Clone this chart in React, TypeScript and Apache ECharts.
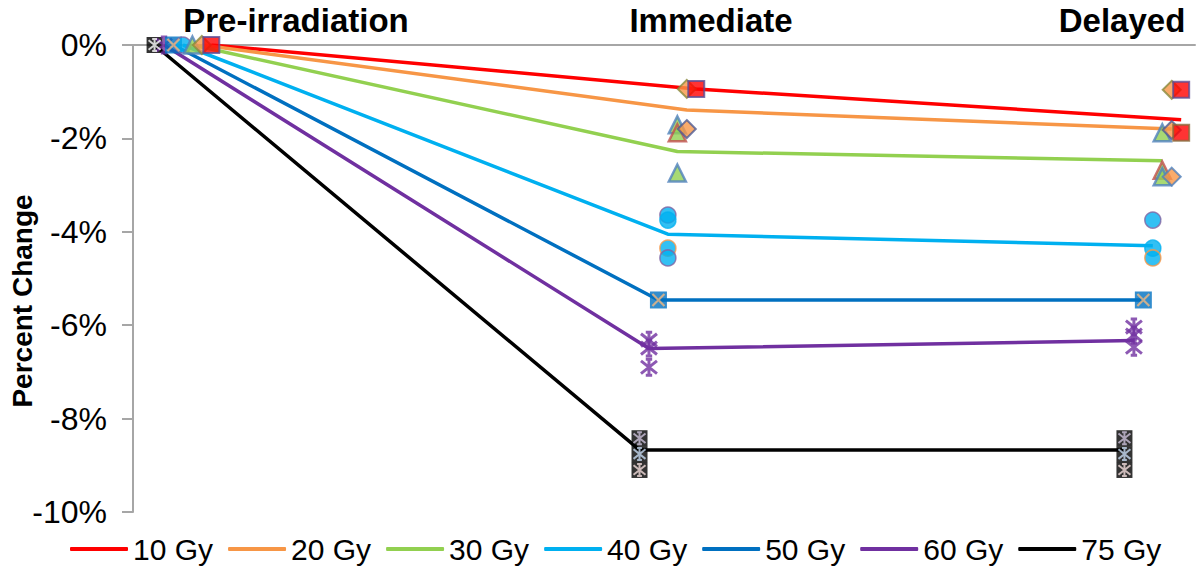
import React, { useEffect, useRef } from "react";
import * as echarts from "echarts";

// ---- data ----
const PHASES = ["Pre-irradiation", "Immediate", "Delayed"];
const PHASE_X = [1, 2, 3];
const DOSES = ["10 Gy", "20 Gy", "30 Gy", "40 Gy", "50 Gy", "60 Gy", "75 Gy"];
const MEAN_PRE = [0, 0, 0, 0, 0, 0, 0];
const MEAN_IMM = [-0.94, -1.39, -2.28, -4.05, -5.46, -6.5, -8.67];
const MEAN_DEL = [-1.6, -1.8, -2.48, -4.3, -5.46, -6.33, -8.67];
const SAMPLES_PRE = [[0], [0], [0], [0], [0], [0], [0]];
const SAMPLES_IMM = [
  [-0.94],
  [-0.94, -1.8],
  [-1.71, -1.88, -2.74],
  [-3.64, -3.75, -4.35, -4.56],
  [-5.46],
  [-6.32, -6.49, -6.9],
  [-8.42, -8.76, -9.1],
];
const SAMPLES_DEL = [
  [-0.96, -1.88],
  [-0.96, -1.82, -2.82],
  [-1.88, -2.68, -2.82],
  [-3.75, -4.35, -4.56],
  [-5.46],
  [-6.04, -6.21, -6.47],
  [-8.42, -8.76, -9.1],
];
const Y_TICKS = [0, -2, -4, -6, -8, -10];

// ---- style ----
const COLORS = ["#FF0000", "#F79646", "#92D050", "#00B0F0", "#0070C0", "#7030A0", "#000000"];
const FONT = "'Liberation Sans', Arial, Helvetica, sans-serif";
const OFFSET_STEP = 0.0195;
const X_PATH = "path://M0 0L10 10M10 0L0 10";
const AST_PATH = "path://M5 0L5 10M0 1L10 9M10 1L0 9M3 0L7 0M3 10L7 10";
const BORDERS: string[][] = [
  ["#5B4E96", "#8A6A3C"],
  ["#8A8A3C", "#4F5B93", "#4F81BD"],
  ["#4F81BD", "#C0504D", "#4F81BD"],
  ["#8064A2", "#00B0F0", "#F79646", "#8064A2"],
  ["#0070C0"],
  ["#7030A0"],
  ["#CCC0DA", "#C5D9F1", "#F2DCDB"],
];
const LABEL_POS = [296, 711, 1122];

function offsetOf(i: number) {
  return (3 - i) * OFFSET_STEP;
}

function points(i: number) {
  const off = offsetOf(i);
  const out: { value: number[]; idx: number }[] = [];
  [SAMPLES_PRE[i], SAMPLES_IMM[i], SAMPLES_DEL[i]].forEach((arr, p) => {
    arr.forEach((v, k) => out.push({ value: [PHASE_X[p] + off, v], idx: k }));
  });
  return out;
}

function buildOption() {
  const series: any[] = [];
  DOSES.forEach((name, i) => {
    const off = offsetOf(i);
    series.push({
      name,
      type: "line",
      symbol: "none",
      z: 2,
      lineStyle: { color: COLORS[i], width: 3.5 },
      itemStyle: { color: COLORS[i] },
      data: [
        [PHASE_X[0] + off, MEAN_PRE[i]],
        [PHASE_X[1] + off, MEAN_IMM[i]],
        [PHASE_X[2] + off, MEAN_DEL[i]],
      ],
    });
  });
  const markerDefs = [
    { symbol: "rect", size: 16, bw: 2 },
    { symbol: "diamond", size: 18, bw: 2 },
    { symbol: "triangle", size: 17, bw: 2.5 },
    { symbol: "circle", size: 16, bw: 1.5 },
    { symbol: "rect", size: 17, bw: 0 },
    { symbol: AST_PATH, size: 16, bw: 3 },
    { symbol: "rect", size: 16, bw: 0 },
  ];
  // draw from 75 Gy back to 10 Gy so 10 Gy markers on top
  for (let i = DOSES.length - 1; i >= 0; i--) {
    const m = markerDefs[i];
    const pts = points(i);
    const isAst = i === 5;
    series.push({
      name: DOSES[i] + " samples",
      type: "scatter",
      z: 5,
      symbol: m.symbol,
      symbolSize: m.size,
      silent: true,
      data: pts.map((p) => ({
        value: p.value,
        itemStyle: {
          color: isAst ? "rgba(0,0,0,0)" : COLORS[i],
          borderColor: isAst ? COLORS[5] : BORDERS[i][p.idx % BORDERS[i].length],
          borderWidth: m.bw,
        },
      })),
    });
    if (i === 4) {
      series.push({
        name: "50 Gy overlay",
        type: "scatter",
        z: 6,
        symbol: X_PATH,
        symbolSize: 12,
        silent: true,
        data: pts.map((p) => ({
          value: p.value,
          itemStyle: { color: "rgba(0,0,0,0)", borderColor: "#F2B880", borderWidth: 2.2 },
        })),
      });
    }
    if (i === 6) {
      series.push({
        name: "75 Gy overlay",
        type: "scatter",
        z: 6,
        symbol: AST_PATH,
        symbolSize: 12,
        silent: true,
        data: pts.map((p) => ({
          value: p.value,
          itemStyle: {
            color: "rgba(0,0,0,0)",
            borderColor: p.value[0] < 1.5 ? "#FFFFFF" : BORDERS[6][p.idx % 3],
            borderWidth: 2,
          },
        })),
      });
    }
  }

  return {
    animation: false,
    backgroundColor: "#FFFFFF",
    textStyle: { fontFamily: FONT },
    grid: { left: 133, right: 5, top: 45, bottom: 55 },
    legend: {
      data: DOSES,
      left: 70,
      top: 534,
      padding: 0,
      icon: "roundRect",
      itemWidth: 58,
      itemHeight: 4,
      itemGap: 15,
      textStyle: { fontSize: 30, lineHeight: 30, color: "#000", fontFamily: FONT },
    },
    xAxis: {
      type: "value",
      position: "top",
      min: 0.897,
      max: 3.087,
      axisLine: { show: true, onZero: false, lineStyle: { color: "#A6A6A6", width: 2 } },
      axisTick: { show: false },
      axisLabel: { show: false },
      splitLine: { show: false },
    },
    yAxis: {
      type: "value",
      min: Y_TICKS[Y_TICKS.length - 1],
      max: Y_TICKS[0],
      interval: 2,
      axisLine: { show: true, lineStyle: { color: "#A6A6A6", width: 2 } },
      axisTick: { show: true, length: 11, lineStyle: { color: "#A6A6A6", width: 2 } },
      axisLabel: {
        formatter: (v: number) => v + "%",
        fontSize: 32,
        color: "#000",
        fontFamily: FONT,
        margin: 26,
      },
      splitLine: { show: false },
    },
    graphic: [
      ...PHASES.map((t, k) => ({
        type: "text",
        x: LABEL_POS[k],
        y: 20,
        style: {
          text: t,
          fontSize: 33,
          fontWeight: "bold",
          fontFamily: FONT,
          fill: "#000",
          align: "center",
          verticalAlign: "middle",
        },
      })),
      {
        type: "text",
        x: 22,
        y: 301,
        rotation: Math.PI / 2,
        style: {
          text: "Percent Change",
          fontSize: 28,
          fontWeight: "bold",
          fontFamily: FONT,
          fill: "#000",
          align: "center",
          verticalAlign: "middle",
        },
      },
    ],
    series,
  };
}

export default function App() {
  const ref = useRef<HTMLDivElement>(null);
  useEffect(() => {
    if (!ref.current) return;
    const chart = echarts.init(ref.current, null, { renderer: "svg" });
    chart.setOption(buildOption() as any);
    return () => chart.dispose();
  }, []);
  return (
    <div
      ref={ref}
      style={{ position: "absolute", left: 0, top: 0, width: 1200, height: 567 }}
    />
  );
}
